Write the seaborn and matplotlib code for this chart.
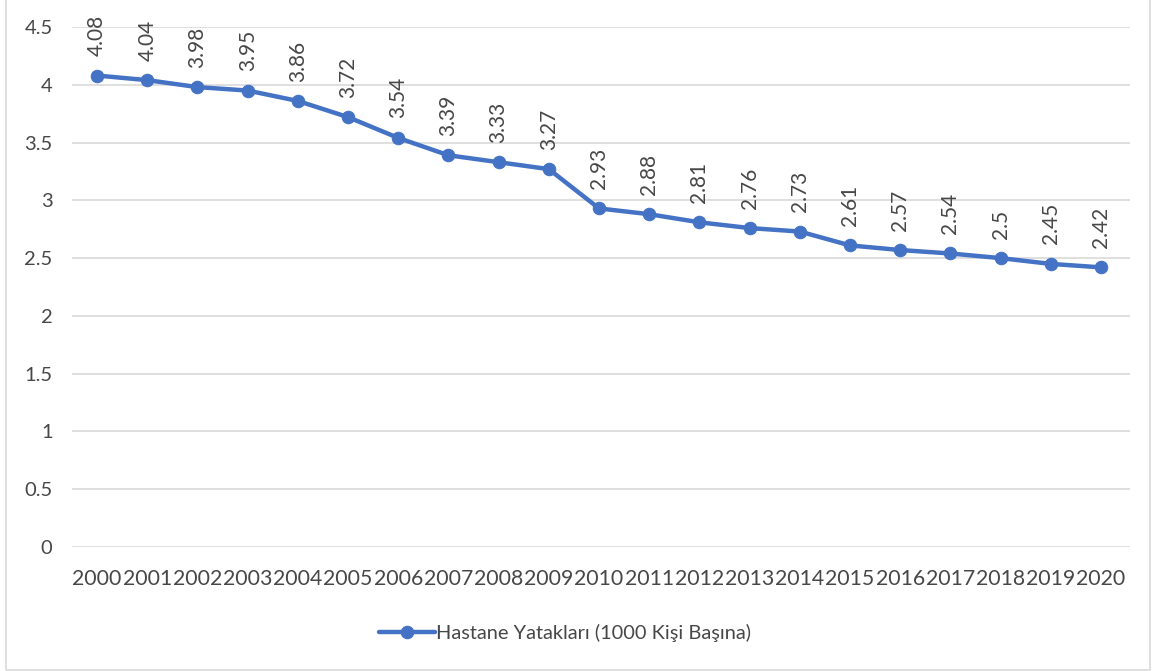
import matplotlib
matplotlib.use("Agg")
import matplotlib.pyplot as plt
import matplotlib.patches as mpatches
import pandas as pd
import seaborn as sns

# data
years = [str(y) for y in range(2000, 2021)]
beds = [4.08, 4.04, 3.98, 3.95, 3.86, 3.72, 3.54, 3.39, 3.33, 3.27,
        2.93, 2.88, 2.81, 2.76, 2.73, 2.61, 2.57, 2.54, 2.5, 2.45, 2.42]
series_label = 'Hastane Yatakları (1000 Kişi Başına)'
y_ticks = [0, 0.5, 1, 1.5, 2, 2.5, 3, 3.5, 4, 4.5]

sns.set_style('white')
plt.rcParams['font.family'] = ['Lato', 'DejaVu Sans']

blue = '#4472C4'
txt = '#474747'

df = pd.DataFrame({'pos': range(len(years)), 'value': beds})

fig = plt.figure(figsize=(11.57, 6.71), dpi=100)
ax = fig.add_axes([72 / 1157, 1 - 547 / 671, (1130 - 72) / 1157, (547 - 27) / 671])

sns.lineplot(data=df, x='pos', y='value', ax=ax, color=blue, linewidth=3.2,
             marker='o', markersize=9, markeredgecolor=blue, label=series_label,
             zorder=3)

# rotated data labels above each point
for i, v in enumerate(beds):
    ax.annotate(f'{v:g}', (i, v), xytext=(0, 14), textcoords='offset points',
                rotation=90, ha='center', va='bottom', fontsize=15, color=txt)

ax.set_xlim(-0.5, len(years) - 0.5 + 0.08)
ax.set_ylim(0, 4.5)
ax.set_yticks(y_ticks)
ax.set_yticklabels([f'{t:g}' for t in y_ticks])
ax.set_xticks(range(len(years)))
ax.set_xticklabels(years)
ax.grid(axis='y', color='#D9D9D9', linewidth=1.2)
ax.grid(axis='x', visible=False)
for s in ax.spines.values():
    s.set_visible(False)
ax.tick_params(axis='both', length=0, labelcolor=txt)
ax.tick_params(axis='x', pad=16, labelsize=15.3)
ax.tick_params(axis='y', pad=14, labelsize=14.5)
ax.set_xlabel('')
ax.set_ylabel('')

leg = ax.legend(loc='center', bbox_to_anchor=(0.466, -0.165), frameon=False,
                fontsize=14.4, handlelength=2.8, handletextpad=0.05)
for t in leg.get_texts():
    t.set_color(txt)

fig.patches.append(mpatches.Rectangle((6 / 1157, 1 / 671), 1144 / 1157, 680 / 671,
                                      transform=fig.transFigure, fill=False,
                                      edgecolor='#D9D9D9', linewidth=1.2))

fig.savefig('out.png', dpi=100)
